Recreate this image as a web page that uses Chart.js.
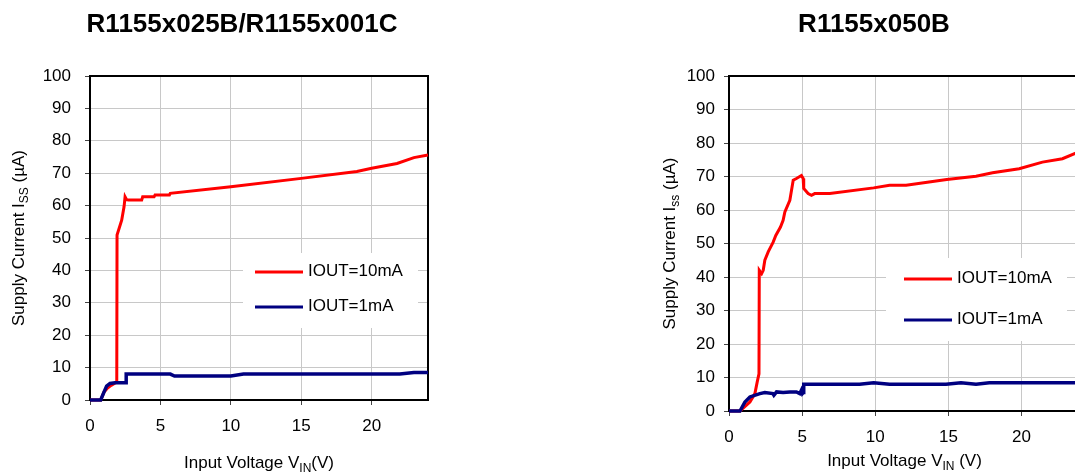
<!DOCTYPE html>
<html>
<head>
<meta charset="utf-8">
<script src="https://cdn.jsdelivr.net/npm/chart.js@4.4.1/dist/chart.umd.min.js"></script>
<style>
  html, body { margin: 0; padding: 0; background: #fff; overflow: hidden; width: 1075px; height: 476px; }
  canvas { position: absolute; top: 0; }
</style>
</head>
<body>
<canvas id="left" width="480" height="476" style="left:0"></canvas>
<canvas id="right" width="438" height="476" style="left:655px"></canvas>
<script>
const FONT = "'Liberation Sans', Arial, sans-serif";

const seriesNames = ["IOUT=10mA", "IOUT=1mA"];
const titleLeft = "R1155x025B/R1155x001C";
const titleRight = "R1155x050B";
const yTicks = [0, 10, 20, 30, 40, 50, 60, 70, 80, 90, 100];
const xTicks = [0, 5, 10, 15, 20];

// R1155x025B/R1155x001C
const vinL10 = [0, 0.76, 1.0, 1.2, 1.5, 1.85, 1.9, 1.92, 2.25, 2.42, 2.49, 2.6, 2.73, 3.67, 3.74, 4.55, 4.62, 5.64, 5.7, 10, 15, 18.95, 20, 21.8, 23, 24];
const issL10 = [0, 0, 2.5, 3.5, 4.5, 5.4, 5.6, 50.9, 55.5, 59.7, 62.7, 61.8, 61.7, 61.7, 62.7, 62.7, 63.3, 63.3, 63.8, 65.8, 68.4, 70.5, 71.5, 73, 74.8, 75.6];
const vinL1 = [0, 0.76, 1.0, 1.18, 1.42, 1.78, 2.56, 2.57, 5.7, 6.0, 10, 10.9, 22, 23, 24];
const issL1 = [0, 0, 2.5, 4.3, 5.1, 5.3, 5.3, 8.0, 8.0, 7.4, 7.4, 8.0, 8.0, 8.5, 8.5];

// R1155x050B
const vinR10 = [0, 0.75, 1.43, 1.77, 1.93, 2.05, 2.07, 2.23, 2.34, 2.45, 2.68, 3.02, 3.2, 3.52, 3.7, 3.82, 4.16, 4.39, 4.61, 4.95, 5.07, 5.11, 5.41, 5.64, 5.86, 6.89, 9.89, 10.98, 12.11, 14.89, 16.89, 18.02, 19.84, 21.43, 22.8, 24];
const issR10 = [0, 0, 2.7, 5.2, 8.7, 11.1, 42, 41, 42, 45, 47.5, 50.4, 52.4, 54.9, 56.9, 59.4, 62.9, 68.9, 69.4, 70.3, 69.4, 66.4, 64.9, 64.4, 64.9, 64.9, 66.6, 67.4, 67.4, 69.1, 70.1, 71.1, 72.3, 74.3, 75.3, 77.5];
const vinR1 = [0, 0.75, 1.09, 1.43, 2.11, 2.45, 3.0, 3.07, 3.25, 3.7, 4.16, 4.61, 4.84, 4.95, 5.02, 5.08, 5.11, 8.93, 9.89, 10.98, 14.84, 15.86, 16.89, 17.8, 24];
const issR1 = [0, 0, 2.7, 4.2, 5.2, 5.5, 5.2, 4.7, 5.7, 5.5, 5.7, 5.7, 5.2, 6.2, 5.2, 5.5, 8.0, 8.0, 8.4, 8.0, 8.0, 8.4, 8.0, 8.4, 8.4];

const colors = ["#ff0000", "#000080"];

function pts(xs, ys) {
  return xs.map((x, i) => ({ x: x, y: ys[i] }));
}

// text with subscripts: parts = [[text, isSub], ...], centred on cx, baseline at by
function drawParts(ctx, parts, cx, by) {
  const big = "17px " + FONT, small = "12px " + FONT;
  let w = 0;
  parts.forEach(p => { ctx.font = p[1] ? small : big; w += ctx.measureText(p[0]).width; });
  let x = cx - w / 2;
  ctx.textAlign = "left";
  ctx.textBaseline = "alphabetic";
  parts.forEach(p => {
    ctx.font = p[1] ? small : big;
    ctx.fillText(p[0], x, by + (p[1] ? 4 : 0));
    x += ctx.measureText(p[0]).width;
  });
}

const deco = {
  id: "deco",
  beforeDatasetsDraw(chart, args, o) {
    const { ctx, chartArea: a } = chart;
    ctx.save();
    ctx.strokeStyle = "#000";
    ctx.lineWidth = 2;
    ctx.strokeRect(a.left, a.top, a.right - a.left, a.bottom - a.top);
    ctx.restore();
  },
  afterDraw(chart, args, o) {
    const { ctx, chartArea: a } = chart;
    ctx.save();
    ctx.fillStyle = "#000";
    // chart title
    ctx.font = "bold 26px " + FONT;
    ctx.textAlign = "center";
    ctx.textBaseline = "alphabetic";
    ctx.fillText(o.title, o.titleX, 32);
    // x axis title
    drawParts(ctx, o.xTitle, (a.left + a.right) / 2, o.xTitleY);
    // y axis title
    ctx.save();
    ctx.translate(o.yTitleX, (a.top + a.bottom) / 2);
    ctx.rotate(-Math.PI / 2);
    drawParts(ctx, o.yTitle, 0, 0);
    ctx.restore();
    // legend
    const L = o.legend;
    ctx.fillStyle = "#fff";
    ctx.fillRect(L.x, L.y, L.w, L.h);
    chart.data.datasets.forEach((ds, i) => {
      const y = L.rows[i];
      ctx.strokeStyle = ds.borderColor;
      ctx.lineWidth = 3;
      ctx.beginPath();
      ctx.moveTo(L.lineX, y);
      ctx.lineTo(L.lineX + 48, y);
      ctx.stroke();
      ctx.fillStyle = "#000";
      ctx.font = "17px " + FONT;
      ctx.textAlign = "left";
      ctx.textBaseline = "middle";
      ctx.fillText(ds.label, L.lineX + 53, y - 1);
    });
    ctx.restore();
  }
};

function makeChart(id, d10, d1, deco_opts, yWidth, xHeight, padRight, yPad) {
  return new Chart(document.getElementById(id), {
    type: "line",
    data: {
      datasets: [
        { label: seriesNames[0], data: d10, borderColor: colors[0], borderWidth: 3, pointRadius: 0, clip: false, order: 1 },
        { label: seriesNames[1], data: d1, borderColor: colors[1], borderWidth: 3.5, pointRadius: 0, clip: false, order: 0 }
      ]
    },
    options: {
      responsive: false,
      animation: false,
      layout: { padding: { top: 76, right: padRight, left: 0, bottom: 0 } },
      plugins: { legend: { display: false }, tooltip: { enabled: false }, deco: deco_opts },
      scales: {
        x: {
          type: "linear",
          min: 0, max: 24,
          afterBuildTicks: s => { s.ticks = xTicks.map(v => ({ value: v })); },
          afterFit: s => { s.height = xHeight; },
          grid: { color: "#c8c8c8", tickLength: 5, tickColor: "#444" },
          border: { display: false },
          ticks: { color: "#000", font: { family: FONT, size: 17 }, padding: 11, maxRotation: 0 }
        },
        y: {
          min: 0, max: 100,
          afterBuildTicks: s => { s.ticks = yTicks.map(v => ({ value: v })); },
          afterFit: s => { s.width = yWidth; },
          grid: { color: "#c8c8c8", tickLength: 5, tickColor: "#444" },
          border: { display: false },
          ticks: { color: "#000", font: { family: FONT, size: 17 }, padding: yPad }
        }
      }
    },
    plugins: [deco]
  });
}

makeChart("left", pts(vinL10, issL10), pts(vinL1, issL1), {
  title: titleLeft, titleX: 242,
  xTitle: [["Input Voltage V", false], ["IN", true], ["(V)", false]], xTitleY: 468,
  yTitle: [["Supply Current I", false], ["SS", true], [" (\u00b5A)", false]], yTitleX: 24,
  legend: { x: 243, y: 253, w: 175, h: 75, lineX: 255, rows: [272, 307] }
}, 90, 76, 52, 14);

makeChart("right", pts(vinR10, issR10), pts(vinR1, issR1), {
  title: titleRight, titleX: 219,
  xTitle: [["Input Voltage V", false], ["IN", true], [" (V)", false]], xTitleY: 466,
  yTitle: [["Supply Current I", false], ["ss", true], [" (\u00b5A)", false]], yTitleX: 20,
  legend: { x: 231, y: 258, w: 181, h: 83, lineX: 249, rows: [279, 320] }
}, 74, 65, 13, 9);
</script>
</body>
</html>
